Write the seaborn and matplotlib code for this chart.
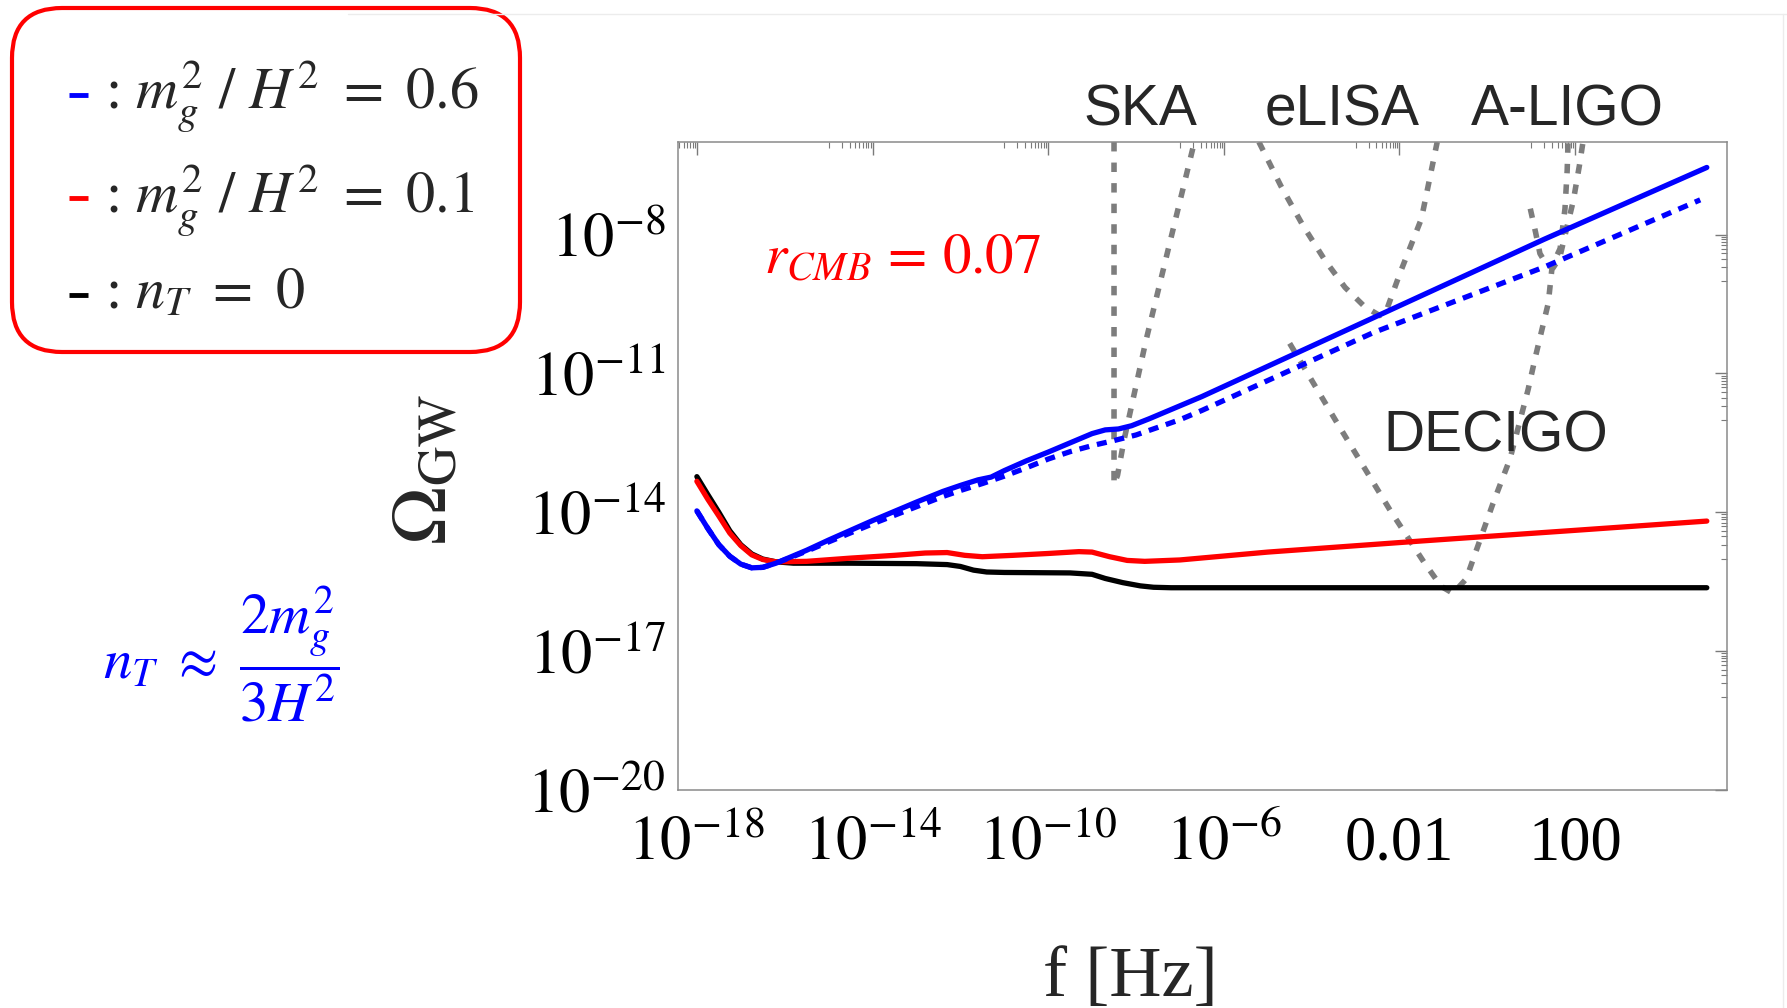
import numpy as np
import pandas as pd
import matplotlib.pyplot as plt
import seaborn as sns
from matplotlib.patches import FancyBboxPatch
from matplotlib.lines import Line2D
from matplotlib.ticker import FixedLocator, FixedFormatter, NullFormatter

# curves: log10(f / Hz) and log10(Omega_GW)
black_logf = [-18.0, -17.75, -17.5, -17.25, -17.0, -16.75, -16.5, -16.2, -15.8, -14.5, -13.0, -12.3,
              -12.0, -11.7, -11.4, -11.0, -9.5, -9.0, -8.7, -8.3, -7.9, -7.6, -7.2, 5.0]
black_logo = [-13.23, -13.62, -14.0, -14.4, -14.7, -14.9, -15.01, -15.07, -15.1, -15.1, -15.11, -15.13,
              -15.17, -15.25, -15.29, -15.3, -15.31, -15.34, -15.43, -15.52, -15.59, -15.62, -15.63, -15.63]

red_logf = [-18.0, -17.75, -17.5, -17.25, -17.0, -16.75, -16.5, -16.2, -15.5, -14.5, -13.5, -12.8, -12.3,
            -11.9, -11.5, -10.8, -10.0, -9.3, -9.0, -8.6, -8.2, -7.8, -7.0, -5.0, -1.5, 2.0, 5.0]
red_logo = [-13.33, -13.72, -14.08, -14.45, -14.72, -14.92, -15.02, -15.07, -15.06, -14.99, -14.93, -14.88,
            -14.87, -14.93, -14.96, -14.93, -14.89, -14.85, -14.86, -14.96, -15.04, -15.06, -15.03, -14.86,
            -14.62, -14.39, -14.19]

blue_logf = [-18.0, -17.75, -17.5, -17.25, -17.0, -16.75, -16.5, -16.2, -15.5, -15.0, -14.0, -13.0, -12.4,
             -12.0, -11.6, -11.3, -11.0, -10.5, -10.0, -9.5, -9.0, -8.7, -8.4, -8.1, -7.7, -7.3, -6.5,
             -2.6, 1.3, 5.0]
blue_logo = [-13.97, -14.35, -14.7, -14.95, -15.12, -15.2, -15.19, -15.1, -14.82, -14.6, -14.18, -13.78,
             -13.55, -13.42, -13.3, -13.24, -13.1, -12.89, -12.7, -12.5, -12.3, -12.22, -12.2, -12.13,
             -11.98, -11.82, -11.5, -9.8, -8.1, -6.55]

bdot_logf = [-18.0, -17.75, -17.5, -17.25, -17.0, -16.75, -16.5, -16.2, -15.5, -15.0, -14.0, -13.0, -12.4,
             -12.0, -11.5, -11.0, -10.5, -10.0, -9.5, -9.0, -8.5, -8.0, -7.0, -6.5, -2.6, 1.3, 4.85]
bdot_logo = [-13.97, -14.35, -14.7, -14.95, -15.12, -15.2, -15.19, -15.1, -14.84, -14.64, -14.25, -13.88,
             -13.66, -13.53, -13.38, -13.22, -13.04, -12.85, -12.69, -12.56, -12.45, -12.33, -12.0, -11.8,
             -10.12, -8.7, -7.25]

# detector sensitivity curves
ska_logf = [-8.5, -8.5, -8.42, -8.27, -7.77, -6.67]
ska_logo = [-6.0, -13.4, -13.2, -12.43, -10.28, -6.0]
elisa_logf = [-5.2, -4.7, -4.2, -3.7, -3.24, -2.8, -2.45, -2.3, -1.99, -1.5, -1.14]
elisa_logo = [-6.0, -6.95, -7.8, -8.55, -9.14, -9.55, -9.75, -9.65, -8.84, -7.66, -6.0]
decigo_logf = [-4.5, -3.4, -2.21, -1.44, -1.05, -0.78, -0.48, 0.13, 0.52, 0.93, 1.09, 1.39, 1.48, 1.66,
               1.77, 1.82, 1.84]
decigo_logo = [-10.35, -12.1, -13.96, -15.08, -15.6, -15.75, -15.44, -13.81, -12.84, -11.35, -10.67, -9.48,
               -8.67, -8.3, -7.44, -6.62, -6.0]
aligo_logf = [0.98, 1.1, 1.2, 1.35, 1.5, 1.65, 1.8, 1.96, 2.1, 2.18]
aligo_logo = [-7.44, -7.95, -8.41, -8.65, -8.72, -8.5, -7.9, -7.27, -6.5, -6.0]

x_major = [1e-18, 1e-14, 1e-10, 1e-6, 1e-2, 1e2]
x_labels = [r'$10^{-18}$', r'$10^{-14}$', r'$10^{-10}$', r'$10^{-6}$', '0.01', '100']
y_major = [1e-20, 1e-17, 1e-14, 1e-11, 1e-8]
y_labels = [r'$10^{-20}$', r'$10^{-17}$', r'$10^{-14}$', r'$10^{-11}$', r'$10^{-8}$']

legend_labels = [r': $m_g^2\ /\ H^2\ =\ 0.6$', r': $m_g^2\ /\ H^2\ =\ 0.1$', r': $n_T\ =\ 0$']
legend_colors = ['#0000ff', '#ff0000', '#000000']

sns.set_theme(style='white')
plt.rcParams['font.family'] = ['Liberation Serif', 'DejaVu Serif']
plt.rcParams['mathtext.fontset'] = 'stix'

fig = plt.figure(figsize=(17.87, 10.08), dpi=100)
ax = fig.add_axes([678 / 1787, 1 - 790 / 1008, (1727 - 678) / 1787, (790 - 142) / 1008])
ax.set_xscale('log')
ax.set_yscale('log')

gray = '#7d7d7d'
for lf, lo in [(ska_logf, ska_logo), (elisa_logf, elisa_logo), (decigo_logf, decigo_logo),
               (aligo_logf, aligo_logo)]:
    sns.lineplot(x=10 ** np.array(lf), y=10 ** np.array(lo), ax=ax, color=gray, lw=4.0,
                 sort=False, estimator=None, linestyle=(0, (1.7, 2.0)))

sns.lineplot(x=10 ** np.array(black_logf), y=10 ** np.array(black_logo), ax=ax, color='black',
             lw=3.8, sort=False, estimator=None)
sns.lineplot(x=10 ** np.array(red_logf), y=10 ** np.array(red_logo), ax=ax, color='#ff0000',
             lw=3.8, sort=False, estimator=None)
sns.lineplot(x=10 ** np.array(bdot_logf), y=10 ** np.array(bdot_logo), ax=ax, color='#0000ff',
             lw=3.8, sort=False, estimator=None, linestyle=(0, (1.9, 1.5)))
sns.lineplot(x=10 ** np.array(blue_logf), y=10 ** np.array(blue_logo), ax=ax, color='#0000ff',
             lw=3.8, sort=False, estimator=None)

ax.set_xlim(10 ** -18.43, 10 ** 5.46)
ax.set_ylim(1e-20, 1e-6)

x_minor = [k * m / 10 for m in x_major for k in range(1, 10)]
y_minor = [k * m / 10 for m in y_major[1:] for k in range(1, 10)]
ax.xaxis.set_major_locator(FixedLocator(x_major))
ax.xaxis.set_major_formatter(FixedFormatter(x_labels))
ax.xaxis.set_minor_locator(FixedLocator(x_minor))
ax.xaxis.set_minor_formatter(NullFormatter())
ax.yaxis.set_major_locator(FixedLocator(y_major))
ax.yaxis.set_major_formatter(FixedFormatter(y_labels))
ax.yaxis.set_minor_locator(FixedLocator(y_minor))
ax.yaxis.set_minor_formatter(NullFormatter())
ax.tick_params(which='both', direction='in', top=True, right=True, color='#7a7a7a')
ax.tick_params(which='major', length=9, width=1.0, labelsize=45, pad=9, labelcolor='black')
ax.tick_params(axis='x', which='major', pad=18)
ax.tick_params(which='minor', length=4.5, width=0.8)
for s in ax.spines.values():
    s.set_color('#8a8a8a')
    s.set_linewidth(1.1)
ax.set_xlabel('')
ax.set_ylabel('')

# detector names
sans = ['Liberation Sans', 'DejaVu Sans']
for name, xc, yb in [('SKA', 1140, 125), ('eLISA', 1342, 125), ('A-LIGO', 1567, 125), ('DECIGO', 1496, 452)]:
    fig.text(xc / 1787, 1 - yb / 1008, name, family=sans, fontsize=41, ha='center', va='baseline')

fig.text(764 / 1787, 1 - 273 / 1008, r'$r_{CMB}\,=\,0.07$', color='#ff0000', fontsize=41,
         ha='left', va='baseline')
fig.text(103 / 1787, 1 - 655 / 1008, r'$n_T\ \approx\ \dfrac{2m_g^2}{3H^2}$', color='#0000ff',
         fontsize=41, ha='left', va='center')

fig.text(1130 / 1787, 1 - 996 / 1008, 'f [Hz]', fontsize=52, ha='center', va='baseline')
fig.text(427 / 1787, 1 - 470 / 1008, r'$\Omega_{\rm GW}$', fontsize=56, rotation=90,
         ha='center', va='center')

# legend box
box = FancyBboxPatch((0.12, 6.56), 5.08, 3.44, boxstyle='round,pad=0,rounding_size=0.5',
                     transform=fig.dpi_scale_trans, fill=False, edgecolor='#ff0000', lw=3.0)
fig.patches.append(box)
for lab, col, yb, yd in zip(legend_labels, legend_colors, [108, 212, 308], [95, 198, 295]):
    fig.add_artist(Line2D([0.69, 0.88], [(1008 - yd) / 100] * 2, transform=fig.dpi_scale_trans,
                          color=col, lw=3.5, solid_capstyle='butt'))
    fig.text(105 / 1787, 1 - yb / 1008, lab, fontsize=42, ha='left', va='baseline')

# faint slide edge
fig.add_artist(Line2D([3.48, 17.87], [9.94, 9.94], transform=fig.dpi_scale_trans, color='#ececec', lw=1))
fig.add_artist(Line2D([17.83, 17.83], [0, 9.94], transform=fig.dpi_scale_trans, color='#ececec', lw=1))

fig.savefig('out.png', dpi=100)
